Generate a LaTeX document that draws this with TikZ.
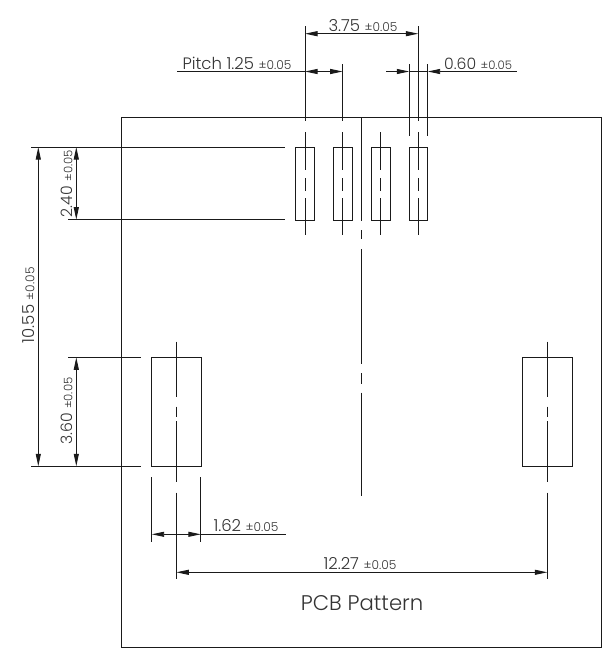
\documentclass[tikz,border=0pt]{standalone}
\usepackage{fontspec}
\setmainfont{Poppins}[UprightFont=* Light]
\usetikzlibrary{arrows.meta}
\definecolor{ink}{HTML}{1A1A1A}
\definecolor{txt}{HTML}{333333}
\tikzset{
  ln/.style={draw=ink,line width=0.95pt},
  dimline/.style={ln,{Triangle[length=12.5pt,width=5pt]}-{Triangle[length=12.5pt,width=5pt]}},
  rarrow/.style={ln,-{Triangle[length=12.5pt,width=5pt]}},
  larrow/.style={ln,{Triangle[length=12.5pt,width=5pt]}-},
  lab/.style={inner sep=0pt,anchor=base west,text=txt},
  labr/.style={lab,rotate=90},
}
\newcommand{\tol}[1]{#1 {\fontsize{12.2}{14}\selectfont ±0.05}}
\newcommand{\tolnar}[1]{{\fontsize{15.7}{18}\selectfont #1 {\fontsize{11.7}{14}\selectfont ±0.05}}}
\begin{document}
\begin{tikzpicture}[x=1pt,y=-1pt,font=\fontsize{16.5}{18}\selectfont]
\useasboundingbox (0,0) rectangle (604,653);
% board outline
\draw[ln] (121.5,117) rectangle (601.7,647.7);
% small pads
\foreach \n/\a/\b in {1/295.7/314.3,2/333.3/352.3,3/371.3/390,4/409.3/427.7}
  \draw[ln] (\a,147) rectangle (\b,220);
% large pads
\draw[ln] (151.7,357.3) rectangle (201,466.3);
\draw[ln] (522.3,357.3) rectangle (572,466.3);
% centre lines of small pads
\foreach \x in {305,342.7,380.7,418.3}{
  \draw[ln] (\x,132) -- (\x,170);
  \draw[ln] (\x,178) -- (\x,190.7);
  \draw[ln] (\x,198.3) -- (\x,235);
}
% main centre line
\draw[ln] (361.7,117) -- (361.7,220.7);
\draw[ln] (361.7,230) -- (361.7,239.3);
\draw[ln] (361.7,249.3) -- (361.7,364.3);
\draw[ln] (361.7,373.3) -- (361.7,384);
\draw[ln] (361.7,392.7) -- (361.7,496);
% centre lines of large pads
\foreach \x in {176.3,547.3}{
  \draw[ln] (\x,341.7) -- (\x,397.3);
  \draw[ln] (\x,406.7) -- (\x,417.3);
  \draw[ln] (\x,421) -- (\x,481.7);
  \draw[ln] (\x,492.7) -- (\x,579.3);
}
% extension lines top
\draw[ln] (305,26) -- (305,120.7);
\draw[ln] (342.7,64) -- (342.7,120.7);
\draw[ln] (418.3,26) -- (418.3,120.7);
\draw[ln] (409.3,64) -- (409.3,136);
\draw[ln] (427.7,64) -- (427.7,136);
% extension lines left
\draw[ln] (31,147) -- (285,147);
\draw[ln] (68.3,219.7) -- (285,219.7);
\draw[ln] (68.3,357.3) -- (141,357.3);
\draw[ln] (31,466.3) -- (141,466.3);
% extension lines bottom
\draw[ln] (151.7,477) -- (151.7,542);
\draw[ln] (200.8,477) -- (200.8,542);
% dimension lines
\draw[dimline] (305,33.7) -- (418.3,33.7);
\draw[ln] (177,71.5) -- (305,71.5);
\draw[dimline] (305,71.5) -- (342.7,71.5);
\draw[rarrow] (386,71.5) -- (409.3,71.5);
\draw[ln] (409.3,71.5) -- (427.7,71.5);
\draw[larrow] (427.7,71.5) -- (517,71.5);
\draw[dimline] (38.3,147) -- (38.3,466.3);
\draw[dimline] (76.3,147) -- (76.3,219.7);
\draw[dimline] (76.3,357.3) -- (76.3,466.3);
\draw[dimline] (151.7,534.3) -- (200.8,534.3);
\draw[ln] (200.8,534.3) -- (285.7,534.3);
\draw[dimline] (176.3,572.3) -- (547.3,572.3);
% labels
\node[lab] (d375) at (328.3,31.7) {\tol{3.75}};
\node[lab] (dpitch) at (182.3,69.3) {\tol{Pitch 1.25}};
\node[lab] (d060) at (444,69.3) {\tolnar{0.60}};
\node[labr] (d1055) at (34.3,343.3) {\tol{10.55}};
\node[labr] (d240) at (72.3,217.3) {\tolnar{2.40}};
\node[labr] (d360) at (72.3,445) {\tolnar{3.60}};
\node[lab] (d162) at (213.3,531) {\tol{1.62}};
\node[lab] (d1227) at (323.3,569.3) {\tol{12.27}};
\node[lab,font=\fontsize{21.2}{24}\selectfont] (title) at (300.7,610) {PCB Pattern};
\end{tikzpicture}
\end{document}
